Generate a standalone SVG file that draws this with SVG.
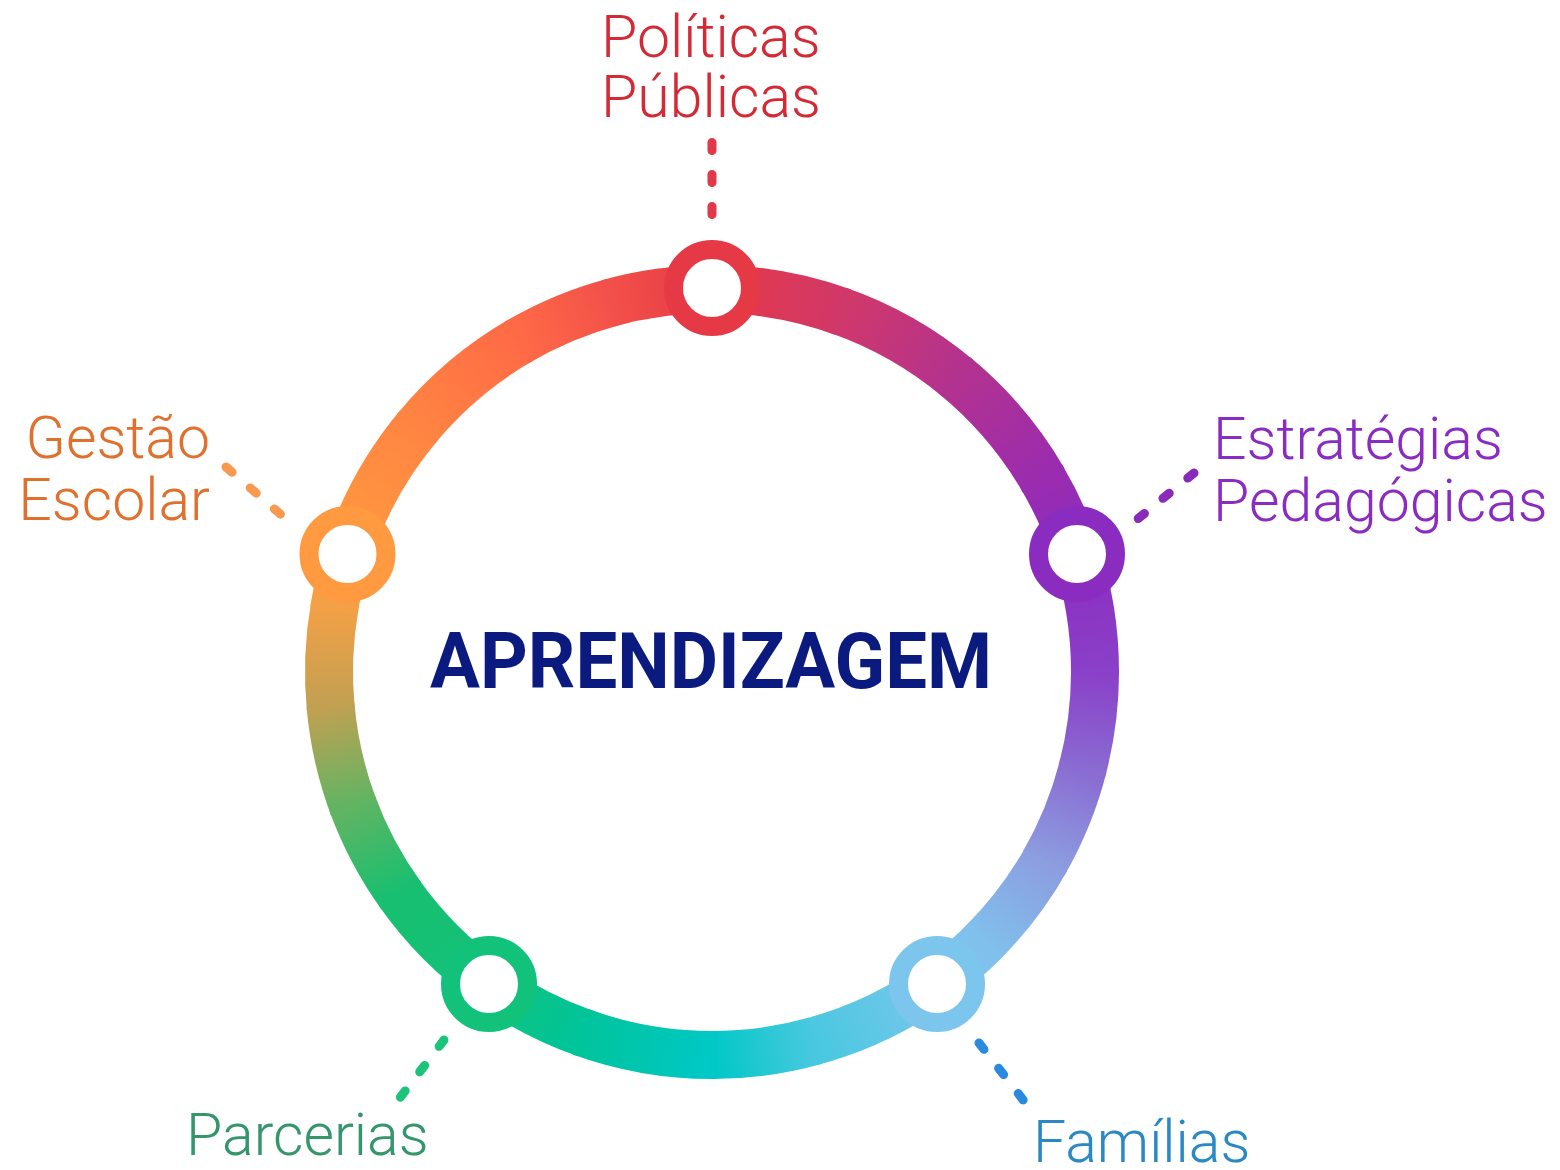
<svg xmlns="http://www.w3.org/2000/svg" width="1560" height="1170" viewBox="0 0 1560 1170">
<defs>
<style>
.lbl{font-family:Roboto,"Liberation Sans",sans-serif;font-weight:300;font-size:59px}
.seg{fill:none;stroke-width:48;stroke-linecap:butt}
.dash{fill:none;stroke-width:9;stroke-linecap:round;stroke-dasharray:8 24}
.node{stroke-width:19;fill:#fff}
</style>
<linearGradient id="g1" gradientUnits="userSpaceOnUse" x1="712" y1="289" x2="843" y2="312.1"><stop offset="0" stop-color="#e63946"/><stop offset="1" stop-color="#d0386a"/></linearGradient>
<linearGradient id="g2" gradientUnits="userSpaceOnUse" x1="843" y1="312.1" x2="958.2" y2="378.6"><stop offset="0" stop-color="#d0386a"/><stop offset="1" stop-color="#b23290"/></linearGradient>
<linearGradient id="g3" gradientUnits="userSpaceOnUse" x1="958.2" y1="378.6" x2="1043.7" y2="480.5"><stop offset="0" stop-color="#b23290"/><stop offset="1" stop-color="#9a2cb0"/></linearGradient>
<linearGradient id="g4" gradientUnits="userSpaceOnUse" x1="1043.7" y1="480.5" x2="1076.3" y2="553.6"><stop offset="0" stop-color="#9a2cb0"/><stop offset="1" stop-color="#8b2cc0"/></linearGradient>
<linearGradient id="g5" gradientUnits="userSpaceOnUse" x1="1076.3" y1="553.6" x2="1095" y2="672"><stop offset="0" stop-color="#8b2cc0"/><stop offset="1" stop-color="#8a40c8"/></linearGradient>
<linearGradient id="g6" gradientUnits="userSpaceOnUse" x1="1095" y1="672" x2="1081.9" y2="771.1"><stop offset="0" stop-color="#8a40c8"/><stop offset="1" stop-color="#8a6cd2"/></linearGradient>
<linearGradient id="g7" gradientUnits="userSpaceOnUse" x1="1081.9" y1="771.1" x2="1043.7" y2="863.5"><stop offset="0" stop-color="#8a6cd2"/><stop offset="1" stop-color="#8c9ee0"/></linearGradient>
<linearGradient id="g8" gradientUnits="userSpaceOnUse" x1="1043.7" y1="863.5" x2="982.8" y2="942.8"><stop offset="0" stop-color="#8c9ee0"/><stop offset="1" stop-color="#80c0ec"/></linearGradient>
<linearGradient id="g9" gradientUnits="userSpaceOnUse" x1="982.8" y1="942.8" x2="937.1" y2="981.9"><stop offset="0" stop-color="#80c0ec"/><stop offset="1" stop-color="#7cc6ee"/></linearGradient>
<linearGradient id="g10" gradientUnits="userSpaceOnUse" x1="937.1" y1="981.9" x2="811.1" y2="1041.9"><stop offset="0" stop-color="#7cc6ee"/><stop offset="1" stop-color="#48c8e0"/></linearGradient>
<linearGradient id="g11" gradientUnits="userSpaceOnUse" x1="811.1" y1="1041.9" x2="712" y2="1055"><stop offset="0" stop-color="#48c8e0"/><stop offset="1" stop-color="#00c8c6"/></linearGradient>
<linearGradient id="g12" gradientUnits="userSpaceOnUse" x1="712" y1="1055" x2="581" y2="1031.9"><stop offset="0" stop-color="#00c8c6"/><stop offset="1" stop-color="#00c49a"/></linearGradient>
<linearGradient id="g13" gradientUnits="userSpaceOnUse" x1="581" y1="1031.9" x2="486.9" y2="981.9"><stop offset="0" stop-color="#00c49a"/><stop offset="1" stop-color="#12c27a"/></linearGradient>
<linearGradient id="g14" gradientUnits="userSpaceOnUse" x1="486.9" y1="981.9" x2="398.3" y2="891.7"><stop offset="0" stop-color="#12c27a"/><stop offset="1" stop-color="#18bf70"/></linearGradient>
<linearGradient id="g15" gradientUnits="userSpaceOnUse" x1="398.3" y1="891.7" x2="352.1" y2="803"><stop offset="0" stop-color="#18bf70"/><stop offset="1" stop-color="#62b462"/></linearGradient>
<linearGradient id="g16" gradientUnits="userSpaceOnUse" x1="352.1" y1="803" x2="330.5" y2="705.4"><stop offset="0" stop-color="#62b462"/><stop offset="1" stop-color="#c2a052"/></linearGradient>
<linearGradient id="g17" gradientUnits="userSpaceOnUse" x1="330.5" y1="705.4" x2="334.8" y2="605.5"><stop offset="0" stop-color="#c2a052"/><stop offset="1" stop-color="#f4a046"/></linearGradient>
<linearGradient id="g18" gradientUnits="userSpaceOnUse" x1="334.8" y1="605.5" x2="347.7" y2="553.6"><stop offset="0" stop-color="#f4a046"/><stop offset="1" stop-color="#ff9a40"/></linearGradient>
<linearGradient id="g19" gradientUnits="userSpaceOnUse" x1="347.7" y1="553.6" x2="418.6" y2="425.8"><stop offset="0" stop-color="#ff9a40"/><stop offset="1" stop-color="#ff8442"/></linearGradient>
<linearGradient id="g20" gradientUnits="userSpaceOnUse" x1="418.6" y1="425.8" x2="520.5" y2="340.3"><stop offset="0" stop-color="#ff8442"/><stop offset="1" stop-color="#ff6a46"/></linearGradient>
<linearGradient id="g21" gradientUnits="userSpaceOnUse" x1="520.5" y1="340.3" x2="612.9" y2="302.1"><stop offset="0" stop-color="#ff6a46"/><stop offset="1" stop-color="#f2504a"/></linearGradient>
<linearGradient id="g22" gradientUnits="userSpaceOnUse" x1="612.9" y1="302.1" x2="712" y2="289"><stop offset="0" stop-color="#f2504a"/><stop offset="1" stop-color="#e63946"/></linearGradient>
</defs>
<rect width="1560" height="1170" fill="#fff"/>
<g id="ring">
<path class="seg" stroke="url(#g1)" d="M707 289A383 383 0 0 1 843 312.1"/>
<path class="seg" stroke="url(#g2)" d="M838.3 310.4A383 383 0 0 1 958.2 378.6"/>
<path class="seg" stroke="url(#g3)" d="M954.4 375.4A383 383 0 0 1 1043.7 480.5"/>
<path class="seg" stroke="url(#g4)" d="M1041.2 476.2A383 383 0 0 1 1076.3 553.6"/>
<path class="seg" stroke="url(#g5)" d="M1074.8 548.8A383 383 0 0 1 1095 672"/>
<path class="seg" stroke="url(#g6)" d="M1095 667A383 383 0 0 1 1081.9 771.1"/>
<path class="seg" stroke="url(#g7)" d="M1083.2 766.3A383 383 0 0 1 1043.7 863.5"/>
<path class="seg" stroke="url(#g8)" d="M1046.2 859.2A383 383 0 0 1 982.8 942.8"/>
<path class="seg" stroke="url(#g9)" d="M986.3 939.3A383 383 0 0 1 937.1 981.9"/>
<path class="seg" stroke="url(#g10)" d="M941.2 979A383 383 0 0 1 811.1 1041.9"/>
<path class="seg" stroke="url(#g11)" d="M815.9 1040.6A383 383 0 0 1 712 1055"/>
<path class="seg" stroke="url(#g12)" d="M717 1055A383 383 0 0 1 581 1031.9"/>
<path class="seg" stroke="url(#g13)" d="M585.7 1033.6A383 383 0 0 1 486.9 981.9"/>
<path class="seg" stroke="url(#g14)" d="M491 984.8A383 383 0 0 1 398.3 891.7"/>
<path class="seg" stroke="url(#g15)" d="M401.2 895.8A383 383 0 0 1 352.1 803"/>
<path class="seg" stroke="url(#g16)" d="M353.8 807.7A383 383 0 0 1 330.5 705.4"/>
<path class="seg" stroke="url(#g17)" d="M330.9 710.4A383 383 0 0 1 334.8 605.5"/>
<path class="seg" stroke="url(#g18)" d="M333.9 610.4A383 383 0 0 1 347.7 553.6"/>
<path class="seg" stroke="url(#g19)" d="M346.2 558.4A383 383 0 0 1 418.6 425.8"/>
<path class="seg" stroke="url(#g20)" d="M415.4 429.6A383 383 0 0 1 520.5 340.3"/>
<path class="seg" stroke="url(#g21)" d="M516.2 342.8A383 383 0 0 1 612.9 302.1"/>
<path class="seg" stroke="url(#g22)" d="M608.1 303.4A383 383 0 0 1 717 289.1"/>
</g>
<g id="connectors">
<path class="dash" stroke="#e0394a" d="M712 142.5L712 218"/>
<path class="dash" stroke="#8a2ab8" d="M1194 473L1134 522"/>
<path class="dash" stroke="#f79a50" d="M226 467L286 519"/>
<path class="dash" stroke="#1cc47a" d="M444 1040L399 1099"/>
<path class="dash" stroke="#2a8ae0" d="M979 1043L1024 1101"/>
</g>
<g id="node-politicas">
<circle class="node" cx="712" cy="288" r="38.5" stroke="#e63946"/>
<text class="lbl" fill="#d42a36"><tspan x="601" y="57">Políticas</tspan><tspan x="601" y="117">Públicas</tspan></text>
</g>
<g id="node-estrategias">
<circle class="node" cx="1077" cy="554" r="38.5" stroke="#8b2cc0"/>
<text class="lbl" fill="#8a2bc2"><tspan x="1213" y="459">Estratégias</tspan><tspan x="1213" y="521">Pedagógicas</tspan></text>
</g>
<g id="node-gestao">
<circle class="node" cx="347.5" cy="554" r="38.5" stroke="#ff9a40"/>
<text class="lbl" fill="#e0702e" text-anchor="end"><tspan x="210" y="458">Gestão</tspan><tspan x="210" y="520">Escolar</tspan></text>
</g>
<g id="node-parcerias">
<circle class="node" cx="489" cy="984" r="38.5" stroke="#12c27a"/>
<text class="lbl" fill="#34966a" x="186" y="1155">Parcerias</text>
</g>
<g id="node-familias">
<circle class="node" cx="937" cy="984" r="38.5" stroke="#7cc6ee"/>
<text class="lbl" fill="#2a88c4" x="1033" y="1162">Famílias</text>
</g>
<g id="center">
<text x="711" y="688" text-anchor="middle" fill="#0b1a7e" font-family="Roboto,'Liberation Sans',sans-serif" font-weight="700" font-size="77" textLength="562" lengthAdjust="spacingAndGlyphs">APRENDIZAGEM</text>
</g>
</svg>
